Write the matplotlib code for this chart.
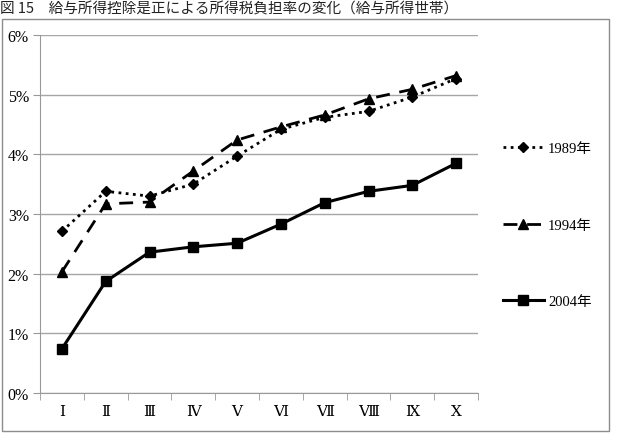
import matplotlib.pyplot as plt
from matplotlib.patches import Rectangle
from matplotlib.ticker import FixedLocator, PercentFormatter

# データ（図から読み取り、単位は%）
categories = ['Ⅰ', 'Ⅱ', 'Ⅲ', 'Ⅳ', 'Ⅴ', 'Ⅵ', 'Ⅶ', 'Ⅷ', 'Ⅸ', 'Ⅹ']
rate_1989 = [2.71, 3.38, 3.30, 3.50, 3.97, 4.42, 4.62, 4.72, 4.96, 5.27]
rate_1994 = [2.03, 3.17, 3.20, 3.72, 4.24, 4.46, 4.66, 4.93, 5.09, 5.32]
rate_2004 = [0.74, 1.87, 2.36, 2.45, 2.51, 2.83, 3.19, 3.38, 3.48, 3.85]
labels = ['1989年', '1994年', '2004年']
title = '図 15　給与所得控除是正による所得税負担率の変化（給与所得世帯）'

serif = ['Liberation Serif', 'DejaVu Serif', 'Noto Sans CJK JP']
plt.rcParams['font.family'] = serif

fig = plt.figure(figsize=(6.17, 4.39), dpi=100)
ax = fig.add_axes([40 / 617, 1 - 394 / 439, 438 / 617, 358 / 439])

x = list(range(len(categories)))
ax.plot(x, rate_1989, color='black', lw=2, linestyle=(0, (1, 1.6)),
        marker='D', markersize=5.5, label=labels[0])
ax.plot(x, rate_1994, color='black', lw=2, linestyle=(0, (5, 3.5)),
        marker='^', markersize=7, label=labels[1])
ax.plot(x, rate_2004, color='black', lw=2.2, linestyle='-',
        marker='s', markersize=7, label=labels[2])

ax.set_xlim(-0.5, len(categories) - 0.5)
ax.set_ylim(0, 6)
ax.set_yticks(range(0, 7))
ax.yaxis.set_major_formatter(PercentFormatter(decimals=0))
ax.set_xticks(x)
ax.set_xticklabels(categories)
ax.xaxis.set_minor_locator(FixedLocator([i - 0.5 for i in range(len(categories) + 1)]))
ax.tick_params(axis='x', which='major', length=0, pad=9, labelsize=11)
ax.tick_params(axis='x', which='minor', length=5, color='#999999')
ax.tick_params(axis='y', length=5, color='#999999', labelsize=11.5, pad=3)

ax.grid(axis='y', color='#a6a6a6', lw=1)
ax.set_axisbelow(True)
for side in ['top', 'right']:
    ax.spines[side].set_visible(False)
for side in ['left', 'bottom']:
    ax.spines[side].set_color('#999999')

fig.legend(loc='upper left', bbox_to_anchor=(497 / 617, 1 - 137 / 439),
           frameon=False, fontsize=10.5, labelspacing=4.35, handlelength=2.8,
           handletextpad=0.3, borderaxespad=0)

# 外枠
fig.patches.append(Rectangle((2 / 617, 1 - 432 / 439), 607 / 617, 412 / 439,
                             transform=fig.transFigure, fill=False,
                             edgecolor='#8c8c8c', lw=1))

fig.text(0.0, 1 - 9 / 439, title, fontsize=10.5, va='center', ha='left',
         family=['Noto Sans CJK JP', 'DejaVu Sans'], color='#222222')

fig.savefig('out.png', dpi=100)
